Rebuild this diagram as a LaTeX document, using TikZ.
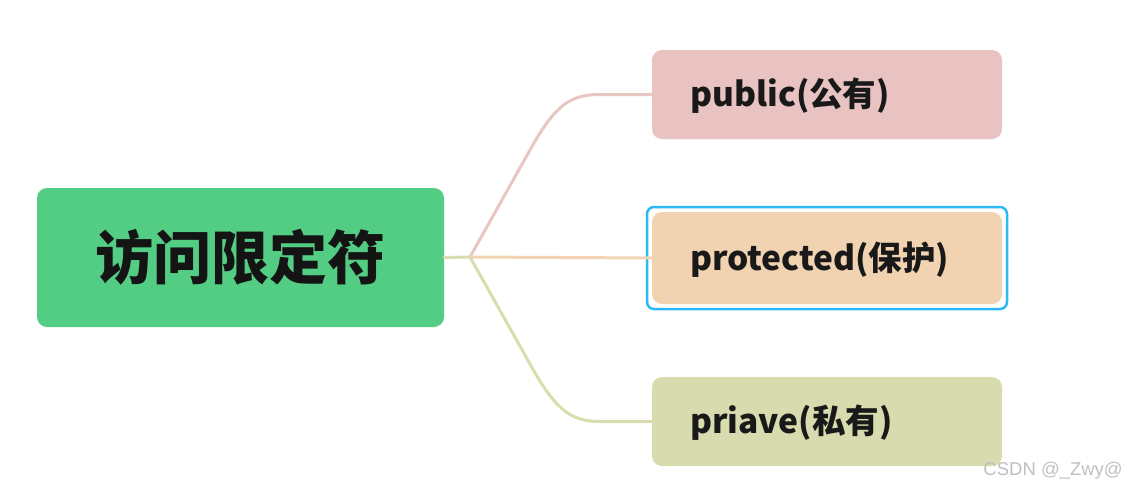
\documentclass[tikz,border=0pt]{standalone}
\usepackage{fontspec}
\setmainfont{Noto Sans CJK SC}
\newfontfamily\cjk{Noto Sans CJK SC}
\newfontfamily\wm{Liberation Sans}
\definecolor{rootfill}{HTML}{52CD83}
\definecolor{pubfill}{HTML}{E8C3C1}
\definecolor{profill}{HTML}{F2D3B1}
\definecolor{prifill}{HTML}{D8DBAE}
\definecolor{publine}{HTML}{E8C6C2}
\definecolor{proline}{HTML}{F3D4B2}
\definecolor{priline}{HTML}{D9DDAD}
\definecolor{selblue}{HTML}{2DB9F7}
\tikzset{
  box/.style={rounded corners=10pt, minimum width=350pt, minimum height=89pt, inner sep=0pt},
  lbl/.style={anchor=west, inner sep=0pt, font=\cjk\bfseries\fontsize{33.5}{38}\selectfont, text=black!90},
  conn/.style={line width=3pt, line cap=round}
}
\begin{document}
\begin{tikzpicture}[x=1pt,y=-1pt]
\useasboundingbox (0,0) rectangle (1128,493);
% root
\node[box, fill=rootfill, minimum width=407pt, minimum height=139pt] (root) at (240.5,257.5) {};
\node[font=\cjk\bfseries\fontsize{58}{62}\selectfont, text=black!92] (roott) at (240.5,257.5) {访问限定符};
% children
\node[box, fill=pubfill] (pub) at (827,94.5) {};
\node[box, draw=selblue, line width=2.5pt, fill=none, minimum width=360pt, minimum height=102pt, rounded corners=7pt] (sel) at (827,258) {};
\node[box, fill=profill, minimum height=92pt] (pro) at (827,258) {};
\node[box, fill=prifill] (pri) at (827,421.5) {};
\node[lbl] (pubt) at (690,96) {public(公有)};
\node[lbl] (prot) at (690,259.5) {protected(保护)};
\node[lbl] (prit) at (690,423) {priave(私有)};
% connectors
\coordinate (br) at (470,257);
\draw[conn, priline] (root.east) -- (br);
\draw[conn, publine] (br) -- (530,150) .. controls (555,105) and (570,94.5) .. (600,94.5) -- (pub.west);
\draw[conn, proline] (br) -- (pro.west);
\draw[conn, priline] (br) -- (530,364) .. controls (555,409) and (570,421.5) .. (600,421.5) -- (pri.west);
% watermark
\node[anchor=east, inner sep=0pt, font=\wm\fontsize{18.5}{22}\selectfont, text=black!25] (wmk) at (1123,471) {CSDN @\_Zwy@};
\end{tikzpicture}
\end{document}
